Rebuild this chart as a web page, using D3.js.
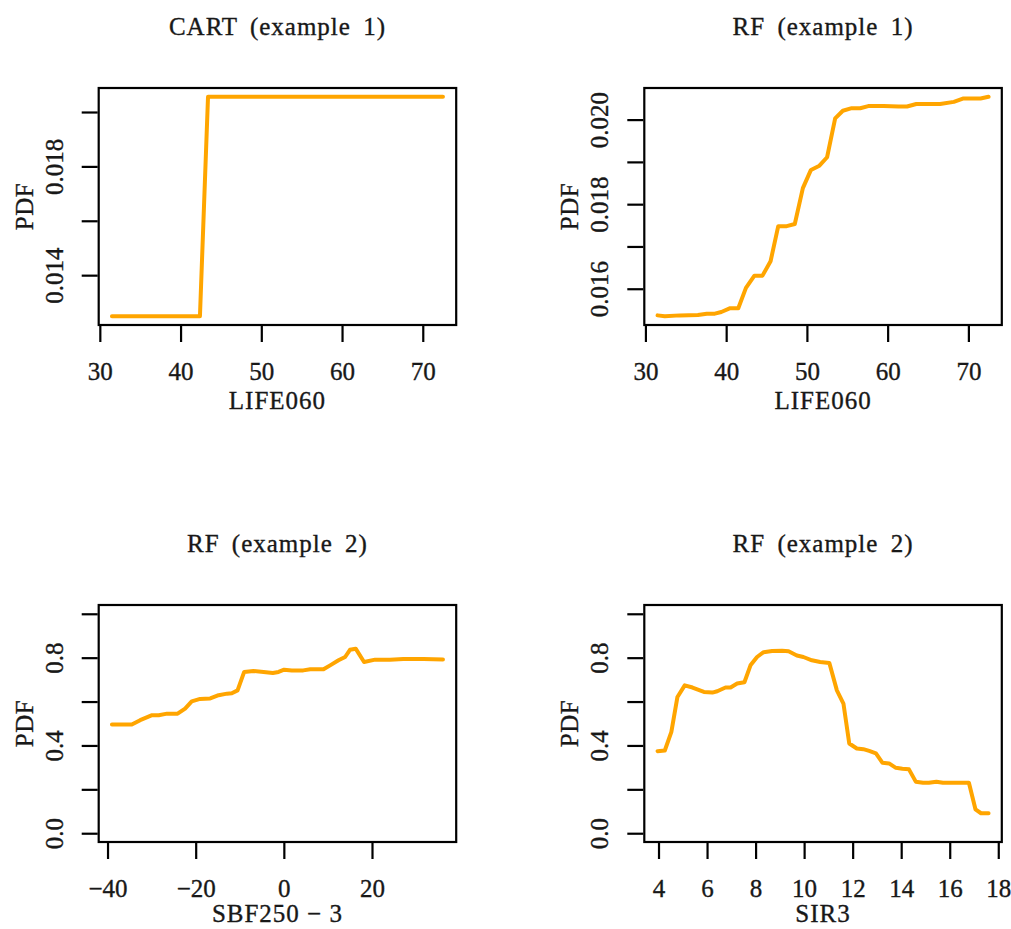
<!DOCTYPE html>
<html>
<head>
<meta charset="utf-8">
<script src="https://cdn.jsdelivr.net/npm/d3@7"></script>
<style>
  html, body { margin: 0; padding: 0; background: #fff; }
  svg { display: block; }
  text { font-family: "Liberation Serif", serif; fill: #181818; stroke: #181818; stroke-width: 0.35px; }
</style>
</head>
<body>
<svg id="chart" width="1011" height="929"></svg>
<script>
// ---------- data ----------
const titles = ["CART (example 1)", "RF (example 1)", "RF (example 2)", "RF (example 2)"];
const xTitles = ["LIFE060", "LIFE060", "SBF250 \u2212 3", "SIR3"];
const yTitle = "PDF";

const cartX = [31.5, 42.4, 43.4, 72.5];
const cartY = [0.01249, 0.01249, 0.02056, 0.02056];

const rf1X = [31.5, 32.4, 34.25, 36.5, 37.6, 38.6, 39.4, 40.5, 41.5, 42.45, 43.5, 44.5, 45.5, 46.45, 47.5, 48.5, 49.5, 50.5, 51.55, 52.5, 53.5, 54.45, 55.55, 56.6, 57.6, 59.5, 61.35, 62.4, 63.55, 66.5, 68.2, 69.4, 71.5, 72.5];
const rf1Y = [0.01537, 0.01535, 0.01537, 0.01538, 0.01541, 0.01541, 0.01545, 0.01554, 0.01554, 0.01602, 0.01631, 0.01631, 0.01665, 0.01748, 0.01748, 0.01753, 0.01838, 0.01881, 0.01891, 0.01911, 0.02003, 0.02021, 0.02027, 0.02027, 0.02032, 0.02032, 0.02031, 0.02031, 0.02037, 0.02037, 0.02042, 0.02050, 0.02050, 0.02054];

const rf2aX = [-39.0, -34.5, -32.6, -29.9, -28.4, -26.5, -24.1, -22.4, -20.9, -19.0, -16.7, -14.8, -12.9, -11.8, -10.5, -9.0, -6.9, -4.6, -2.5, -1.2, 0.07, 1.8, 4.4, 6.0, 9.0, 10.5, 12.4, 13.9, 15.0, 16.3, 18.2, 20.7, 24.1, 27.1, 31.7, 36.1];
const rf2aY = [0.495, 0.495, 0.515, 0.538, 0.538, 0.545, 0.545, 0.568, 0.601, 0.612, 0.614, 0.629, 0.636, 0.638, 0.651, 0.735, 0.739, 0.735, 0.730, 0.735, 0.745, 0.742, 0.742, 0.747, 0.747, 0.765, 0.788, 0.803, 0.836, 0.841, 0.780, 0.791, 0.791, 0.794, 0.794, 0.792];

const rf2bX = [3.96, 4.26, 4.53, 4.78, 5.08, 5.40, 5.87, 6.22, 6.42, 6.76, 6.97, 7.24, 7.54, 7.79, 8.06, 8.33, 8.68, 9.09, 9.36, 9.70, 9.97, 10.32, 10.66, 11.04, 11.35, 11.62, 11.86, 12.17, 12.44, 12.68, 12.96, 13.23, 13.50, 13.78, 14.05, 14.32, 14.60, 14.90, 15.14, 15.45, 15.72, 16.13, 16.79, 17.06, 17.29, 17.60];
const rf2bY = [0.374, 0.377, 0.462, 0.621, 0.674, 0.664, 0.644, 0.641, 0.647, 0.664, 0.664, 0.682, 0.688, 0.765, 0.803, 0.825, 0.830, 0.832, 0.829, 0.810, 0.803, 0.788, 0.780, 0.776, 0.651, 0.591, 0.409, 0.386, 0.383, 0.375, 0.364, 0.321, 0.318, 0.298, 0.294, 0.291, 0.235, 0.230, 0.230, 0.235, 0.230, 0.230, 0.230, 0.109, 0.091, 0.091];

const xTicksLife = [30, 40, 50, 60, 70];
const xTicksSbf = [-40, -20, 0, 20];
const xTickLabelsSbf = ["\u221240", "\u221220", "0", "20"];
const xTicksSir = [4, 6, 8, 10, 12, 14, 16, 18];

const yTicksCart = [0.014, 0.016, 0.018, 0.020];
const yTickLabelsCart = ["0.014", "", "0.018", ""];
const yTicksRf1 = [0.016, 0.017, 0.018, 0.019, 0.020];
const yTickLabelsRf1 = ["0.016", "", "0.018", "", "0.020"];
const yTicksProb = [0, 0.2, 0.4, 0.6, 0.8, 1.0];
const yTickLabelsProb = ["0.0", "", "0.4", "", "0.8", ""];
const yLimProb = [0, 1];

// ---------- layout ----------
const svg = d3.select("#chart");
const FS = 25;
const FONT = "Liberation Serif";
const colLeft = [98.7, 644.3];
const boxW = 357.5;
const rowTop = [88, 605];
const boxH = 237;

function pad(ext) {
  const r = ext[1] - ext[0];
  return [ext[0] - 0.04 * r, ext[1] + 0.04 * r];
}

const panels = [
  {xs: cartX, ys: cartY, xt: xTicksLife, xtl: xTicksLife.map(String), yt: yTicksCart, ytl: yTickLabelsCart, ylim: null},
  {xs: rf1X, ys: rf1Y, xt: xTicksLife, xtl: xTicksLife.map(String), yt: yTicksRf1, ytl: yTickLabelsRf1, ylim: null},
  {xs: rf2aX, ys: rf2aY, xt: xTicksSbf, xtl: xTickLabelsSbf, yt: yTicksProb, ytl: yTickLabelsProb, ylim: yLimProb},
  {xs: rf2bX, ys: rf2bY, xt: xTicksSir, xtl: xTicksSir.map(String), yt: yTicksProb, ytl: yTickLabelsProb, ylim: yLimProb}
];

panels.forEach((p, i) => {
  const row = Math.floor(i / 2);
  const L = colLeft[i % 2], T = rowTop[row];
  const R = L + boxW, B = T + boxH;
  const x = d3.scaleLinear().domain(pad(d3.extent(p.xs))).range([L, R]);
  const y = d3.scaleLinear().domain(pad(p.ylim || d3.extent(p.ys))).range([B, T]);
  const g = svg.append("g");

  // title
  g.append("text").attr("x", (L + R) / 2).attr("y", T - 53)
    .attr("text-anchor", "middle").attr("font-size", FS)
    .attr("letter-spacing", 1).attr("word-spacing", 5).text(titles[i]);

  // x axis
  const xa = g.append("g").attr("transform", `translate(0,${B + 1})`)
    .call(d3.axisBottom(x).tickValues(p.xt).tickFormat((d, k) => p.xtl[k]).tickSize(16).tickPadding(20));
  xa.select(".domain").remove();
  xa.selectAll(".tick line").attr("stroke", "#000").attr("stroke-width", 2.2);
  xa.selectAll(".tick text").attr("font-size", FS).attr("font-family", FONT).attr("fill", "#181818");

  // y axis
  const ya = g.append("g").attr("transform", `translate(${L - 1},0)`)
    .call(d3.axisLeft(y).tickValues(p.yt).tickFormat((d, k) => p.ytl[k]).tickSize(16));
  ya.select(".domain").remove();
  ya.selectAll(".tick line").attr("stroke", "#000").attr("stroke-width", 2.2);
  ya.selectAll(".tick text")
    .attr("font-size", FS).attr("font-family", FONT).attr("fill", "#181818")
    .attr("x", null).attr("y", 0).attr("dy", null)
    .attr("text-anchor", "middle")
    .attr("transform", "translate(-35,0) rotate(-90)");

  // axis titles
  g.append("text").attr("x", (L + R) / 2).attr("y", row === 0 ? B + 84 : B + 80)
    .attr("text-anchor", "middle").attr("font-size", FS).attr("letter-spacing", 1).text(xTitles[i]);
  g.append("text").attr("transform", `translate(${L - 66},${(T + B) / 2}) rotate(-90)`)
    .attr("text-anchor", "middle").attr("font-size", FS).attr("letter-spacing", 0.5).text(yTitle);

  // curve
  const pts = p.xs.map((v, k) => [v, p.ys[k]]);
  g.append("path").datum(pts)
    .attr("d", d3.line().x(d => x(d[0])).y(d => y(d[1])))
    .attr("fill", "none").attr("stroke", "#FFA500").attr("stroke-width", 4)
    .attr("stroke-linejoin", "round").attr("stroke-linecap", "round");

  // box
  g.append("rect").attr("x", L).attr("y", T).attr("width", boxW).attr("height", boxH)
    .attr("fill", "none").attr("stroke", "#000").attr("stroke-width", 2.2);
});
</script>
</body>
</html>
